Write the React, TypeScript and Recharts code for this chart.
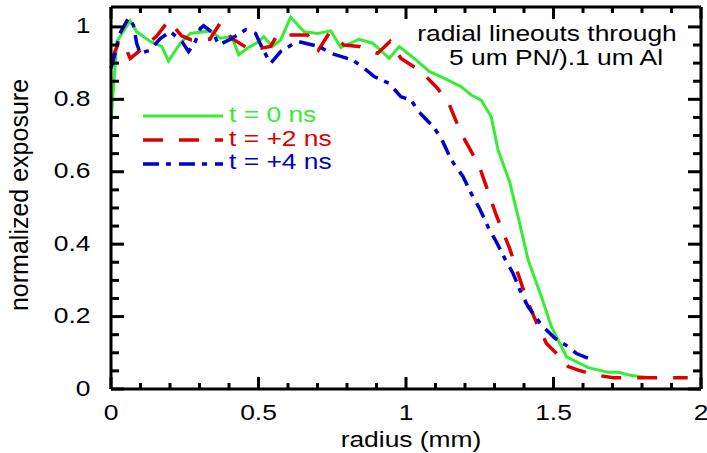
import React from "react";
import { LineChart, Line, XAxis, YAxis, ReferenceLine, ReferenceArea } from "recharts";

// radial lineouts
const radius0 = [
  0.0, 0.02, 0.065, 0.087, 0.133, 0.172, 0.195, 0.235, 0.269, 0.337, 0.371, 0.41, 0.433, 0.462,
  0.496, 0.518, 0.547, 0.575, 0.609, 0.654, 0.7, 0.745, 0.779, 0.841, 0.887, 0.943, 0.977, 1.028,
  1.079, 1.13, 1.187, 1.221, 1.255, 1.289, 1.312, 1.351, 1.38, 1.414, 1.459, 1.493, 1.544, 1.618,
  1.686, 1.72, 1.765, 1.828,
];
const exposure0 = [
  0.74, 0.96, 1.017, 0.987, 0.96, 0.946, 0.906, 0.955, 0.982, 0.989, 0.969, 0.973, 0.923, 0.941,
  0.957, 0.973, 0.946, 0.964, 1.027, 0.987, 0.982, 0.989, 0.943, 0.966, 0.955, 0.913, 0.946, 0.913,
  0.877, 0.858, 0.835, 0.812, 0.798, 0.752, 0.66, 0.573, 0.476, 0.356, 0.255, 0.172, 0.089, 0.059,
  0.046, 0.046, 0.037, 0.031,
];

const radius2 = [
  0.0, 0.025, 0.04, 0.065, 0.099, 0.155, 0.195, 0.24, 0.273, 0.335, 0.37, 0.41, 0.473, 0.541,
  0.564, 0.598, 0.666, 0.703, 0.739, 0.79, 0.841, 0.904, 0.946, 0.983, 1.051, 1.105, 1.145, 1.187,
  1.221, 1.249, 1.306, 1.351, 1.368, 1.408, 1.448, 1.476, 1.527, 1.55, 1.584, 1.641, 1.703, 1.955,
];
const exposure2 = [
  0.905, 0.955, 0.96, 0.913, 0.935, 0.975, 1.017, 0.975, 0.964, 0.966, 1.01, 0.968, 0.936, 0.946,
  0.978, 0.978, 0.978, 0.936, 0.982, 0.95, 0.946, 0.927, 0.96, 0.913, 0.877, 0.832, 0.789, 0.706,
  0.656, 0.614, 0.48, 0.389, 0.347, 0.25, 0.172, 0.126, 0.085, 0.062, 0.052, 0.039, 0.031, 0.031,
];

const radius4 = [
  0.0, 0.017, 0.03, 0.059, 0.076, 0.087, 0.099, 0.133, 0.167, 0.201, 0.24, 0.263, 0.286, 0.303,
  0.314, 0.348, 0.365, 0.41, 0.456, 0.49, 0.513, 0.541, 0.575, 0.632, 0.705, 0.745, 0.818, 0.858,
  0.892, 0.943, 0.983, 1.017, 1.045, 1.097, 1.125, 1.153, 1.193, 1.221, 1.249, 1.283, 1.306, 1.335,
  1.363, 1.391, 1.414, 1.459, 1.505, 1.55, 1.578, 1.618,
];
const exposure4 = [
  0.886, 0.936, 0.982, 1.024, 1.005, 0.955, 0.927, 0.936, 0.968, 0.987, 0.96, 0.932, 0.96, 0.996,
  1.003, 0.982, 0.95, 0.968, 0.992, 0.982, 0.941, 0.899, 0.932, 0.96, 0.946, 0.927, 0.909, 0.886,
  0.863, 0.844, 0.807, 0.798, 0.764, 0.72, 0.683, 0.633, 0.587, 0.54, 0.499, 0.439, 0.407, 0.36,
  0.319, 0.264, 0.227, 0.177, 0.14, 0.117, 0.098, 0.085,
];

const xMajorTicks = [0, 0.5, 1, 1.5, 2];
const yMajorTicks = [0, 0.2, 0.4, 0.6, 0.8, 1];
const xTicks = Array.from({ length: 21 }, (_, i) => i / 10);
const yTicks = Array.from({ length: 21 }, (_, i) => (i * 5) / 100);

const X_DOMAIN: [number, number] = [0, 2];
const Y_DOMAIN: [number, number] = [0, 1.055];
const CHART_W = 707;
const CHART_H = 453;
const LEFT_W = 111;
const RIGHT_M = 6;
const TOP_M = 7;
const BOTTOM_H = 64;
const PX_PER_X = (CHART_W - LEFT_W - RIGHT_M) / (X_DOMAIN[1] - X_DOMAIN[0]);
const PX_PER_Y = (CHART_H - TOP_M - BOTTOM_H) / (Y_DOMAIN[1] - Y_DOMAIN[0]);

const FONT = "'Liberation Sans', Arial, Helvetica, sans-serif";
const STRETCH = 1.2;
const TICK_W = 3;

const series = [
  { key: "e0", name: "t = 0 ns", r: radius0, e: exposure0, color: "#33ee33", dash: undefined, width: 3 },
  { key: "e2", name: "t = +2 ns", r: radius2, e: exposure2, color: "#dd0000", dash: "20 16", width: 3.5 },
  { key: "e4", name: "t = +4 ns", r: radius4, e: exposure4, color: "#0000cc", dash: "16 7 5 8", width: 3.5 },
];

// one table keyed by radius; each series fills its own column
const rows: Record<string, any> = {};
series.forEach((s) => {
  s.r.forEach((r, i) => {
    const k = r.toFixed(3);
    rows[k] = rows[k] || { r };
    rows[k][s.key] = s.e[i];
  });
});
const chartData = Object.values(rows).sort((a, b) => a.r - b.r);

const isMajor = (v: number, list: number[]) => list.some((m) => Math.abs(m - v) < 1e-6);

const BottomTick = (props: any) => {
  const { x, y, payload } = props;
  const major = isMajor(payload.value, xMajorTicks);
  const len = major ? 12 : 6;
  return (
    <g>
      <rect x={x - TICK_W / 2} y={y - len} width={TICK_W} height={len} fill="#000" stroke="none" />
      {major && (
        <text
          transform={`translate(${x},${y + 31}) scale(${STRETCH},1)`}
          textAnchor="middle"
          fontSize={22}
          fontFamily={FONT}
          fill="#000"
        >
          {payload.value}
        </text>
      )}
    </g>
  );
};

const LeftTick = (props: any) => {
  const { x, y, payload } = props;
  const major = isMajor(payload.value, yMajorTicks);
  const len = major ? 13 : 8;
  return (
    <g>
      <rect x={x} y={y - TICK_W / 2} width={len} height={TICK_W} fill="#000" stroke="none" />
      {major && (
        <text
          transform={`translate(${x - 20.5},${y + 6.5}) scale(${STRETCH},1)`}
          textAnchor="end"
          fontSize={22}
          fontFamily={FONT}
          fill="#000"
        >
          {payload.value}
        </text>
      )}
    </g>
  );
};

const frame = { stroke: "#000", strokeWidth: 3 };

// mirrored ticks along the top and right edges of the frame
const halfX = TICK_W / 2 / PX_PER_X;
const halfY = TICK_W / 2 / PX_PER_Y;
const topTicks = xTicks.map((v) => (
  <ReferenceArea
    key={`xt${v}`}
    x1={v - halfX}
    x2={v + halfX}
    y1={Y_DOMAIN[1] - (isMajor(v, xMajorTicks) ? 12 : 6) / PX_PER_Y}
    y2={Y_DOMAIN[1]}
    fill="#000"
    fillOpacity={1}
    stroke="none"
    ifOverflow="visible"
  />
));
const rightTicks = yTicks.map((v) => (
  <ReferenceArea
    key={`yr${v}`}
    x1={X_DOMAIN[1] - (isMajor(v, yMajorTicks) ? 13 : 8) / PX_PER_X}
    x2={X_DOMAIN[1]}
    y1={v - halfY}
    y2={v + halfY}
    fill="#000"
    fillOpacity={1}
    stroke="none"
    ifOverflow="visible"
  />
));

// key drawn in the upper left of the plot
const LEGEND_X = 143;
const LEGEND_Y = 116;
const legendItems = series.map((s, i) => (
  <g key={`lg${s.key}`}>
    <line
      x1={LEGEND_X}
      x2={LEGEND_X + 80}
      y1={LEGEND_Y + 24 * i}
      y2={LEGEND_Y + 24 * i}
      stroke={s.color}
      strokeWidth={s.width}
      strokeDasharray={s.dash}
    />
    <text
      transform={`translate(${LEGEND_X + 86},${LEGEND_Y + 5.8 + 23.7 * i}) scale(${STRETCH},1)`}
      fontSize={22}
      fontFamily={FONT}
      fill={s.color}
    >
      {s.name}
    </text>
  </g>
));

export default function App() {
  return (
    <div style={{ position: "absolute", left: 0, top: 0 }}>
      <LineChart
        width={CHART_W}
        height={CHART_H}
        data={chartData}
        margin={{ top: TOP_M, right: RIGHT_M, bottom: 0, left: 0 }}
      >
        <XAxis
          dataKey="r"
          type="number"
          domain={X_DOMAIN}
          ticks={xTicks}
          interval={0}
          height={BOTTOM_H}
          tickSize={0}
          tickMargin={0}
          tickLine={false}
          tick={<BottomTick />}
          axisLine={frame}
        />
        <YAxis
          type="number"
          domain={Y_DOMAIN}
          ticks={yTicks}
          interval={0}
          width={LEFT_W}
          tickSize={0}
          tickMargin={0}
          tickLine={false}
          tick={<LeftTick />}
          axisLine={frame}
        />
        <ReferenceLine y={Y_DOMAIN[1]} stroke="#000" strokeWidth={3} ifOverflow="visible" />
        <ReferenceLine x={X_DOMAIN[1]} stroke="#000" strokeWidth={3} ifOverflow="visible" />
        {topTicks}
        {rightTicks}
        {series.map((s) => (
          <Line
            key={s.key}
            dataKey={s.key}
            name={s.name}
            type="linear"
            stroke={s.color}
            strokeWidth={s.width}
            strokeDasharray={s.dash}
            dot={false}
            activeDot={false}
            connectNulls
            isAnimationActive={false}
          />
        ))}
        {legendItems}
        <text
          transform={`translate(547,40.7) scale(${STRETCH},1)`}
          textAnchor="middle"
          fontSize={22}
          fontFamily={FONT}
          fill="#000"
        >
          radial lineouts through
        </text>
        <text
          transform={`translate(556,65) scale(${STRETCH},1)`}
          textAnchor="middle"
          fontSize={22}
          fontFamily={FONT}
          fill="#000"
        >
          5 um PN/).1 um Al
        </text>
        <text
          transform={`translate(411,446.5) scale(${STRETCH},1)`}
          textAnchor="middle"
          fontSize={22}
          fontFamily={FONT}
          fill="#000"
        >
          radius (mm)
        </text>
        <text
          transform="translate(27.7,195) rotate(-90)"
          textAnchor="middle"
          fontSize={25}
          fontFamily={FONT}
          fill="#000"
        >
          normalized exposure
        </text>
      </LineChart>
    </div>
  );
}
